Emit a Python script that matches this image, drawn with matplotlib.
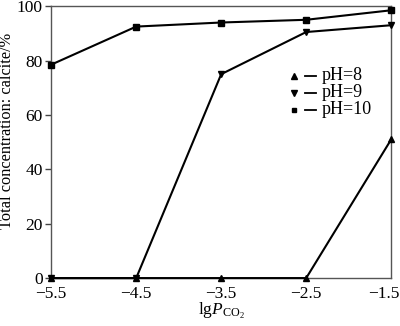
import numpy as np
import matplotlib.pyplot as plt
from matplotlib.transforms import ScaledTranslation

plt.rcParams['font.family'] = ['Liberation Serif', 'DejaVu Serif']
plt.rcParams['mathtext.fontset'] = 'custom'
plt.rcParams['mathtext.rm'] = 'Liberation Serif'
plt.rcParams['mathtext.it'] = 'Liberation Serif:italic'

# --- data ---
lg_pco2 = [-5.5, -4.5, -3.5, -2.5, -1.5]
ph8 = [0, 0, 0, 0, 51]
ph9 = [0, 0, 75, 90.5, 93]
ph10 = [78.5, 92.5, 94, 95, 98.5]
series_labels = ['pH=8', 'pH=9', 'pH=10']
markers = ['^', 'v', 's']
xticks = [-5.5, -4.5, -3.5, -2.5, -1.5]
yticks = [0, 20, 40, 60, 80, 100]

fig = plt.figure(figsize=(4.0, 3.26), dpi=100)
ax = fig.add_axes([0.128, 0.147, 0.85, 0.834])

for vals, m in zip([ph8, ph9, ph10], markers):
    ax.plot(lg_pco2, vals, color='black', lw=1.5, marker=m, ms=4.5 if m != 's' else 4,
            clip_on=False, zorder=3)

ax.set_xlim(-5.5, -1.5)
ax.set_ylim(0, 100)
ax.set_xticks(xticks)
ax.set_xticklabels([f'\u2212{abs(v):.1f}' for v in xticks])
ax.set_yticks(yticks)
ax.tick_params(axis='y', direction='out', length=4, width=1, labelsize=12.5, pad=2, color='#444444')
ax.tick_params(axis='x', length=0, labelsize=12.5, pad=6)
# last x label sits flush with the right edge, as in the reference
last = ax.get_xticklabels()[-1]
last.set_horizontalalignment('right')
last.set_transform(last.get_transform() + ScaledTranslation(8 / 100, 0, fig.dpi_scale_trans))
for s in ax.spines.values():
    s.set_color('#555555')
    s.set_linewidth(1.0)

ax.set_ylabel('Total concentration: calcite/%', fontsize=11.8)
ax.yaxis.set_label_coords(-0.106, 0.54)
ax.set_xlabel(r'lg$P_{\mathrm{CO_2}}$', fontsize=12.5, labelpad=-1)

# legend: marker, short dash, label
leg_y = [0.744, 0.681, 0.619]
for lab, m, yy in zip(series_labels, markers, leg_y):
    ax.plot([0.715], [yy], marker=m, color='black', ms=4 if m != 's' else 3.5,
            transform=ax.transAxes, clip_on=False)
    ax.plot([0.747, 0.78], [yy, yy], color='black', lw=1.3, transform=ax.transAxes)
    ax.text(0.796, yy, lab, transform=ax.transAxes, fontsize=13, va='center', ha='left')

fig.savefig('out.png', dpi=100)
